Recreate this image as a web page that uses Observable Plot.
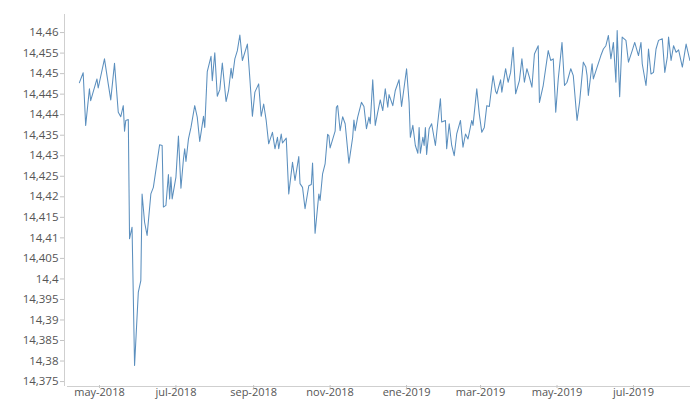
<!DOCTYPE html>
<html>
<head>
<meta charset="utf-8">
<script src="https://cdn.jsdelivr.net/npm/d3@7"></script>
<script src="https://cdn.jsdelivr.net/npm/@observablehq/plot@0.6"></script>
<style>
  html, body { margin: 0; padding: 0; background: #fff; }
  #chart svg { display: block; }
</style>
</head>
<body>
<div id="chart"></div>
<script>
const dates = [
  "2018-04-15","2018-04-18","2018-04-20","2018-04-23","2018-04-24","2018-04-29","2018-04-30",
  "2018-05-05","2018-05-08","2018-05-10","2018-05-13","2018-05-16","2018-05-18","2018-05-20",
  "2018-05-21","2018-05-22","2018-05-24","2018-05-25","2018-05-27","2018-05-29","2018-06-01",
  "2018-06-03","2018-06-04","2018-06-06","2018-06-08","2018-06-11","2018-06-13","2018-06-18",
  "2018-06-20","2018-06-21","2018-06-23","2018-06-25","2018-06-26","2018-06-27","2018-06-28",
  "2018-07-01","2018-07-03","2018-07-05","2018-07-07","2018-07-08","2018-07-09","2018-07-11",
  "2018-07-13","2018-07-16","2018-07-18","2018-07-20","2018-07-23","2018-07-24","2018-07-26",
  "2018-07-29","2018-07-30","2018-08-01","2018-08-03","2018-08-05","2018-08-07","2018-08-10",
  "2018-08-12","2018-08-14","2018-08-15","2018-08-17","2018-08-19","2018-08-21","2018-08-23",
  "2018-08-27","2018-08-29","2018-08-31","2018-09-02","2018-09-05","2018-09-07","2018-09-09",
  "2018-09-11","2018-09-13","2018-09-16","2018-09-18","2018-09-20","2018-09-21","2018-09-23",
  "2018-09-24","2018-09-27","2018-09-29","2018-10-02","2018-10-04","2018-10-07","2018-10-08",
  "2018-10-10","2018-10-12","2018-10-15","2018-10-17","2018-10-18","2018-10-20","2018-10-23",
  "2018-10-24","2018-10-26","2018-10-28","2018-10-30","2018-10-31","2018-11-01","2018-11-05",
  "2018-11-06","2018-11-07","2018-11-09","2018-11-11","2018-11-13","2018-11-16","2018-11-19",
  "2018-11-20","2018-11-21","2018-11-23","2018-11-26","2018-11-28","2018-11-30","2018-12-02",
  "2018-12-03","2018-12-05","2018-12-07","2018-12-09","2018-12-11","2018-12-13","2018-12-15",
  "2018-12-17","2018-12-18","2018-12-21","2018-12-23","2018-12-26","2018-12-28","2019-01-01",
  "2019-01-03","2019-01-04","2019-01-06","2019-01-08","2019-01-10","2019-01-11","2019-01-12",
  "2019-01-14","2019-01-15","2019-01-16","2019-01-17","2019-01-19","2019-01-21","2019-01-24",
  "2019-01-26","2019-01-28","2019-01-29","2019-02-01","2019-02-02","2019-02-04","2019-02-06",
  "2019-02-08","2019-02-10","2019-02-13","2019-02-15","2019-02-17","2019-02-19","2019-02-22",
  "2019-02-23","2019-02-26","2019-02-28","2019-03-02","2019-03-04","2019-03-06","2019-03-08",
  "2019-03-11","2019-03-13","2019-03-14","2019-03-17","2019-03-18","2019-03-21","2019-03-23",
  "2019-03-25","2019-03-27","2019-03-29","2019-04-01","2019-04-03","2019-04-05","2019-04-07",
  "2019-04-09","2019-04-11","2019-04-13","2019-04-16","2019-04-17","2019-04-20","2019-04-24",
  "2019-04-26","2019-04-28","2019-04-30","2019-05-02","2019-05-05","2019-05-07","2019-05-09",
  "2019-05-12","2019-05-14","2019-05-17","2019-05-19","2019-05-22","2019-05-24","2019-05-25",
  "2019-05-26","2019-05-29","2019-05-30","2019-06-02","2019-06-05","2019-06-07","2019-06-09",
  "2019-06-11","2019-06-13","2019-06-15","2019-06-17","2019-06-18","2019-06-20","2019-06-22",
  "2019-06-25","2019-06-27","2019-06-30","2019-07-02","2019-07-05","2019-07-07","2019-07-08",
  "2019-07-11","2019-07-12","2019-07-13","2019-07-15","2019-07-17","2019-07-19","2019-07-21",
  "2019-07-24","2019-07-26","2019-07-28","2019-07-29","2019-07-31","2019-08-02","2019-08-04",
  "2019-08-06","2019-08-09","2019-08-12","2019-08-15"
];

const values = [
  14.4478,14.4502,14.4374,14.4463,14.4434,14.4487,14.4465,
  14.4536,14.4475,14.4436,14.4525,14.4406,14.4395,14.4422,
  14.4360,14.4386,14.4388,14.4098,14.4126,14.3789,14.3968,
  14.3996,14.4207,14.4138,14.4106,14.4207,14.4223,14.4327,
  14.4325,14.4175,14.4179,14.4254,14.4195,14.4248,14.4195,
  14.4248,14.4348,14.4221,14.4292,14.4317,14.4286,14.4341,
  14.4369,14.4422,14.4394,14.4335,14.4396,14.4369,14.4505,
  14.4542,14.4483,14.4551,14.4445,14.4461,14.4526,14.4432,
  14.4459,14.4513,14.4489,14.4536,14.4556,14.4594,14.4532,
  14.4572,14.4487,14.4396,14.4455,14.4475,14.4396,14.4426,
  14.4386,14.4329,14.4357,14.4317,14.4345,14.4317,14.4353,
  14.4331,14.4343,14.4207,14.4284,14.4240,14.4298,14.4232,
  14.4223,14.4171,14.4227,14.4230,14.4282,14.4111,14.4207,
  14.4191,14.4256,14.4280,14.4352,14.4349,14.4319,14.4360,
  14.4418,14.4422,14.4361,14.4395,14.4378,14.4282,14.4345,
  14.4387,14.4361,14.4394,14.4430,14.4420,14.4366,14.4394,
  14.4378,14.4485,14.4374,14.4406,14.4436,14.4410,14.4463,
  14.4418,14.4449,14.4422,14.4459,14.4485,14.4420,14.4512,
  14.4430,14.4345,14.4374,14.4325,14.4306,14.4369,14.4306,
  14.4345,14.4325,14.4369,14.4303,14.4366,14.4378,14.4325,
  14.4384,14.4439,14.4382,14.4386,14.4317,14.4378,14.4325,
  14.4300,14.4353,14.4386,14.4321,14.4353,14.4341,14.4386,
  14.4374,14.4463,14.4402,14.4357,14.4369,14.4422,14.4420,
  14.4495,14.4457,14.4451,14.4485,14.4455,14.4512,14.4479,
  14.4503,14.4564,14.4451,14.4483,14.4536,14.4479,14.4512,
  14.4491,14.4467,14.4548,14.4568,14.4430,14.4471,14.4556,
  14.4532,14.4536,14.4406,14.4487,14.4576,14.4471,14.4479,
  14.4512,14.4495,14.4386,14.4430,14.4528,14.4516,14.4495,
  14.4447,14.4524,14.4487,14.4516,14.4544,14.4560,14.4568,
  14.4593,14.4536,14.4576,14.4479,14.4605,14.4444,14.4589,
  14.4581,14.4528,14.4556,14.4576,14.4544,14.4576,14.4524,
  14.4471,14.4507,14.4560,14.4499,14.4503,14.4560,14.4581,
  14.4585,14.4503,14.4540,14.4589,14.4532,14.4568,14.4552,
  14.4558,14.4516,14.4572,14.4532
];

const xTickDates = ["2018-05-01","2018-07-01","2018-09-01","2018-11-01","2019-01-01","2019-03-01","2019-05-01","2019-07-01"];
const xTickLabels = ["may-2018","jul-2018","sep-2018","nov-2018","ene-2019","mar-2019","may-2019","jul-2019"];

const yTicks = [14.375,14.38,14.385,14.39,14.395,14.4,14.405,14.41,14.415,14.42,14.425,14.43,14.435,14.44,14.445,14.45,14.455,14.46];
const yTickLabels = ["14,375","14,38","14,385","14,39","14,395","14,4","14,405","14,41","14,415","14,42","14,425","14,43","14,435","14,44","14,445","14,45","14,455","14,46"];

const xDomainStrings = ["2018-04-05T12:00:00Z","2019-08-15T12:00:00Z"];
const yDomain = [14.3738, 14.4644];

const data = dates.map((d, i) => ({date: new Date(d + "T00:00:00Z"), value: values[i]}));
const xDomain = xDomainStrings.map(s => new Date(s));
const xTicks = xTickDates.map(s => new Date(s + "T00:00:00Z"));

const chart = Plot.plot({
  width: 690,
  height: 401,
  marginLeft: 67,
  marginRight: 0,
  marginTop: 14,
  marginBottom: 15,
  style: {fontFamily: "'Open Sans', sans-serif", fontSize: "11.5px", color: "#555", background: "#fff"},
  x: {type: "utc", domain: xDomain},
  y: {domain: yDomain},
  marks: [
    Plot.ruleX([xDomain[0]], {dx: -3, stroke: "#cfcfcf"}),
    Plot.ruleY([yDomain[0]], {stroke: "#cfcfcf"}),
    Plot.axisY({ticks: yTicks, tickSize: 4, dx: -3, tickPadding: 2, stroke: "#c4c4c4", fill: "#555",
      tickFormat: v => yTickLabels[yTicks.findIndex(t => Math.abs(t - v) < 1e-9)], label: null}),
    Plot.axisX({ticks: xTicks, tickSize: 3, tickPadding: 0, dy: -1, fontSize: 11, stroke: "#c4c4c4", fill: "#555",
      tickFormat: d => xTickLabels[xTicks.findIndex(t => +t === +d)], label: null}),
    Plot.lineY(data, {x: "date", y: "value", stroke: "#5b8fbe", strokeWidth: 1.05})
  ]
});
document.getElementById("chart").appendChild(chart);
</script>
</body>
</html>
